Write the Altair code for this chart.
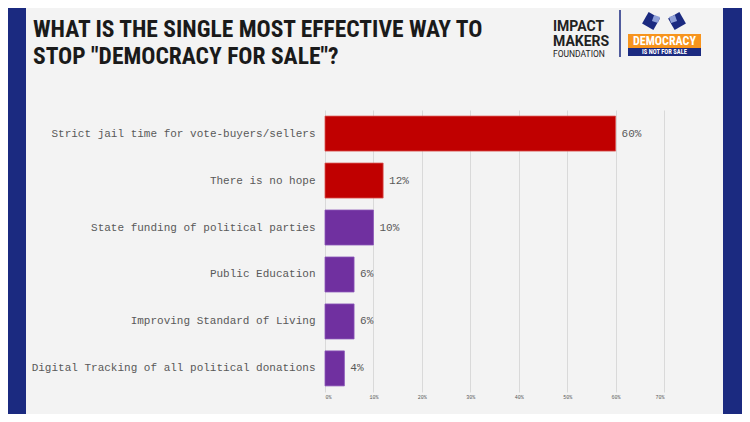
import altair as alt
import pandas as pd

# Survey answers, top to bottom
answers = [
    "Strict jail time for vote-buyers/sellers",
    "There is no hope",
    "State funding of political parties",
    "Public Education",
    "Improving Standard of Living",
    "Digital Tracking of all political donations",
]
shares = [0.60, 0.12, 0.10, 0.06, 0.06, 0.04]
groups = ["top", "top", "rest", "rest", "rest", "rest"]
tick_values = [0, 0.1, 0.2, 0.3, 0.4, 0.5, 0.6, 0.7]
title_lines = ["WHAT IS THE SINGLE MOST EFFECTIVE WAY TO", 'STOP "DEMOCRACY FOR SALE"?']

df = pd.DataFrame({"answer": answers, "share": shares, "group": groups})

MONO = "Liberation Mono"
HEAD = "Liberation Sans Narrow, Roboto Condensed, Roboto"
NAVY = "#1b2a80"

base = alt.Chart(df)

bars = base.mark_bar(strokeWidth=0.8).encode(
    y=alt.Y("answer:N", sort=answers, title=None,
            scale=alt.Scale(paddingInner=0.255, paddingOuter=0.13),
            axis=alt.Axis(labelFont=MONO, labelFontSize=11, labelColor="#595959",
                          labelPadding=10, ticks=False, domain=False, grid=False,
                          labelLimit=400)),
    x=alt.X("share:Q", title=None,
            scale=alt.Scale(domain=[0, 0.7], nice=False),
            axis=alt.Axis(values=tick_values, format=".0%", labelFont=MONO,
                          labelFontSize=5, labelColor="#595959", ticks=False,
                          domain=False, gridColor="#d9d9d9", labelPadding=2)),
    color=alt.Color("group:N", legend=None,
                    scale=alt.Scale(domain=["top", "rest"], range=["#c00000", "#7030a0"])),
    stroke=alt.Stroke("group:N", legend=None,
                      scale=alt.Scale(domain=["top", "rest"], range=["#d9534f", "#8a55b8"])),
)

labels = base.mark_text(align="left", dx=6, font=MONO, fontSize=11, color="#595959").encode(
    y=alt.Y("answer:N", sort=answers),
    x="share:Q",
    text=alt.Text("share:Q", format=".0%"),
)

one = alt.Data(values=[{"k": 1}])

# side stripes of the slide
stripes = alt.layer(
    alt.Chart(one).mark_rect(color=NAVY).encode(
        x=alt.value(-317), x2=alt.value(-299), y=alt.value(-102), y2=alt.value(304)),
    alt.Chart(one).mark_rect(color=NAVY).encode(
        x=alt.value(398), x2=alt.value(417), y=alt.value(-102), y2=alt.value(304)),
)

# headline, one text mark with two lines
heading = alt.Chart(one).mark_text(
    text=title_lines, font=HEAD, fontWeight="bold", fontSize=23.5, lineHeight=27,
    align="left", baseline="alphabetic", color="#1a1a1a",
).encode(x=alt.value(-292), y=alt.value(-73))

# logo block, top right
logo = alt.layer(
    alt.Chart(one).mark_text(text=["IMPACT", "MAKERS"], font="Roboto", fontWeight="bold",
                             fontSize=14, lineHeight=15, align="left", baseline="alphabetic",
                             color="#222222").encode(
        x=alt.value(228), y=alt.value(-79)),
    alt.Chart(one).mark_text(text="FOUNDATION", font="Roboto", fontSize=8.5,
                             align="left", baseline="alphabetic", color="#222222").encode(
        x=alt.value(228), y=alt.value(-53)),
    alt.Chart(one).mark_rule(color=NAVY, strokeWidth=1.5).encode(
        x=alt.value(295), y=alt.value(-100), y2=alt.value(-53)),
    alt.Chart(one).mark_rect(color="#f7941d").encode(
        x=alt.value(303), x2=alt.value(376), y=alt.value(-76), y2=alt.value(-62)),
    alt.Chart(one).mark_rect(color=NAVY).encode(
        x=alt.value(303), x2=alt.value(376), y=alt.value(-62), y2=alt.value(-54)),
    alt.Chart(one).mark_text(text="DEMOCRACY", font=HEAD, fontWeight="bold", fontSize=12,
                             align="center", baseline="middle", color="white").encode(
        x=alt.value(339.5), y=alt.value(-69)),
    alt.Chart(one).mark_text(text="IS NOT FOR SALE", font=HEAD, fontWeight="bold", fontSize=6.5,
                             align="center", baseline="middle", color="white").encode(
        x=alt.value(339.5), y=alt.value(-58)),
    # two hands icon, roughly
    alt.Chart(one).mark_point(shape="square", filled=True, size=170, angle=30,
                              color=NAVY, opacity=1).encode(
        x=alt.value(326), y=alt.value(-89)),
    alt.Chart(one).mark_point(shape="square", filled=True, size=170, angle=330,
                              color=NAVY, opacity=1).encode(
        x=alt.value(352), y=alt.value(-89)),
    alt.Chart(one).mark_point(shape="square", filled=True, size=40, angle=20,
                              color="#8fa0d8", opacity=1).encode(
        x=alt.value(331), y=alt.value(-91)),
    alt.Chart(one).mark_point(shape="square", filled=True, size=40, angle=340,
                              color="#8fa0d8", opacity=1).encode(
        x=alt.value(348), y=alt.value(-91)),
)

chart = alt.layer(stripes, heading, bars, labels, logo).properties(
    width=339,
    height=282,
    autosize=alt.AutoSizeParams(type="none"),
    padding={"left": 317, "top": 102, "right": 78, "bottom": 22},
    background="#f3f3f3",
).configure_view(stroke=None)

chart.save("out.html", embed_options={"renderer": "svg", "actions": False})
